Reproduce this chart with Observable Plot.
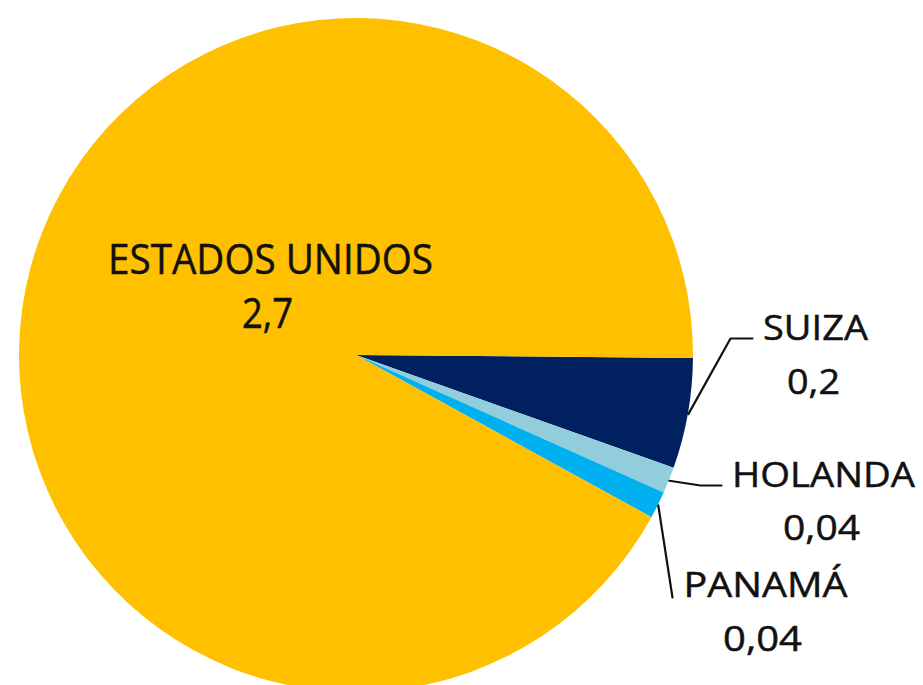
<!DOCTYPE html>
<html>
<head>
<meta charset="utf-8">
<script src="https://cdn.jsdelivr.net/npm/d3@7"></script>
<script src="https://cdn.jsdelivr.net/npm/@observablehq/plot@0.6"></script>
<style>
  body { margin: 0; background: #fff; }
  #chart svg { display: block; }
</style>
</head>
<body>
<div id="chart"></div>
<script>
// ---- data ----
const countries   = ["SUIZA", "HOLANDA", "PANAMÁ", "ESTADOS UNIDOS"];
const values      = [0.155, 0.037, 0.038, 2.7];
const valueLabels = ["0,2", "0,04", "0,04", "2,7"];
const colors      = ["#002060", "#92CDDC", "#00B0F0", "#FFC000"];

// ---- layout ----
const W = 923, H = 685;
const CX = 356, CY = 355, R = 337;
const START = 90.5 * Math.PI / 180;
const labelLayout = {
  "SUIZA":          {nx: 815, ny: 339, vx: 813, vy: 393, nw: 105, vw: 53, size: 35, leader: [[730, 338], [752, 338]]},
  "HOLANDA":        {nx: 823, ny: 486, vx: 821, vy: 539, nw: 183, vw: 77, size: 35, leader: [[700, 485], [721, 485]]},
  "PANAMÁ":         {nx: 765, ny: 596, vx: 762, vy: 650, nw: 164, vw: 79, size: 35, leader: [[672, 597]]},
  "ESTADOS UNIDOS": {nx: 270, ny: 273, vx: 267, vy: 327, nw: 325, vw: 51, size: 42, leader: null}
};

const data = countries.map((c, i) => ({country: c, value: values[i], label: valueLabels[i], color: colors[i]}));
const arcs = d3.pie().value(d => d.value).sort(null)
  .startAngle(START).endAngle(START + 2 * Math.PI)(data);

// leader lines: from slice edge at mid-angle to the label
const leaders = [];
arcs.forEach(a => {
  const L = labelLayout[a.data.country];
  if (!L.leader) return;
  const m = (a.startAngle + a.endAngle) / 2;
  leaders.push({country: a.data.country, x: CX + R * Math.sin(m), y: CY - R * Math.cos(m)});
  L.leader.forEach(([x, y]) => leaders.push({country: a.data.country, x, y}));
});

const nameRows = data.map(d => ({...d, ...labelLayout[d.country]}));

function pieMark(index, scales) {
  const g = d3.create("svg:g");
  const r = scales.x(CX + R) - scales.x(CX);
  const arc = d3.arc().innerRadius(0).outerRadius(r);
  g.attr("transform", `translate(${scales.x(CX)},${scales.y(CY)})`);
  g.selectAll("path").data(arcs).join("path")
    .attr("d", arc)
    .attr("fill", d => d.data.color);
  return g.node();
}

const textOpts = {
  fill: "#111",
  stroke: "#111",
  strokeWidth: 0.5,
  fontFamily: "'Open Sans', 'Noto Sans', sans-serif",
  textAnchor: "middle",
  lineAnchor: "bottom"
};

const small = nameRows.filter(d => d.size === 35), large = nameRows.filter(d => d.size === 42);

const plot = Plot.plot({
  width: W,
  height: H,
  margin: 0,
  x: {domain: [0, W], range: [0, W], axis: null},
  y: {domain: [0, H], range: [0, H], axis: null},
  style: {background: "white", overflow: "hidden"},
  marks: [
    pieMark,
    Plot.line(leaders, {x: "x", y: "y", z: "country", stroke: "#111", strokeWidth: 2.2, curve: "linear"}),
    Plot.text(small, {...textOpts, x: "nx", y: "ny", text: "country", fontSize: 35, className: "lbl-name-s"}),
    Plot.text(small, {...textOpts, x: "vx", y: "vy", text: "label", fontSize: 35, className: "lbl-val-s"}),
    Plot.text(large, {...textOpts, x: "nx", y: "ny", text: "country", fontSize: 42, className: "lbl-name-l"}),
    Plot.text(large, {...textOpts, x: "vx", y: "vy", text: "label", fontSize: 42, className: "lbl-val-l"})
  ]
});

document.getElementById("chart").appendChild(plot);

// fit label widths to the reference
function fit(cls, rows, key) {
  d3.select(plot).selectAll(`.${cls} text`).each(function(_, i) {
    d3.select(this).attr("textLength", rows[i][key]).attr("lengthAdjust", "spacingAndGlyphs");
  });
}
fit("lbl-name-s", small, "nw");
fit("lbl-val-s", small, "vw");
fit("lbl-name-l", large, "nw");
fit("lbl-val-l", large, "vw");
</script>
</body>
</html>
